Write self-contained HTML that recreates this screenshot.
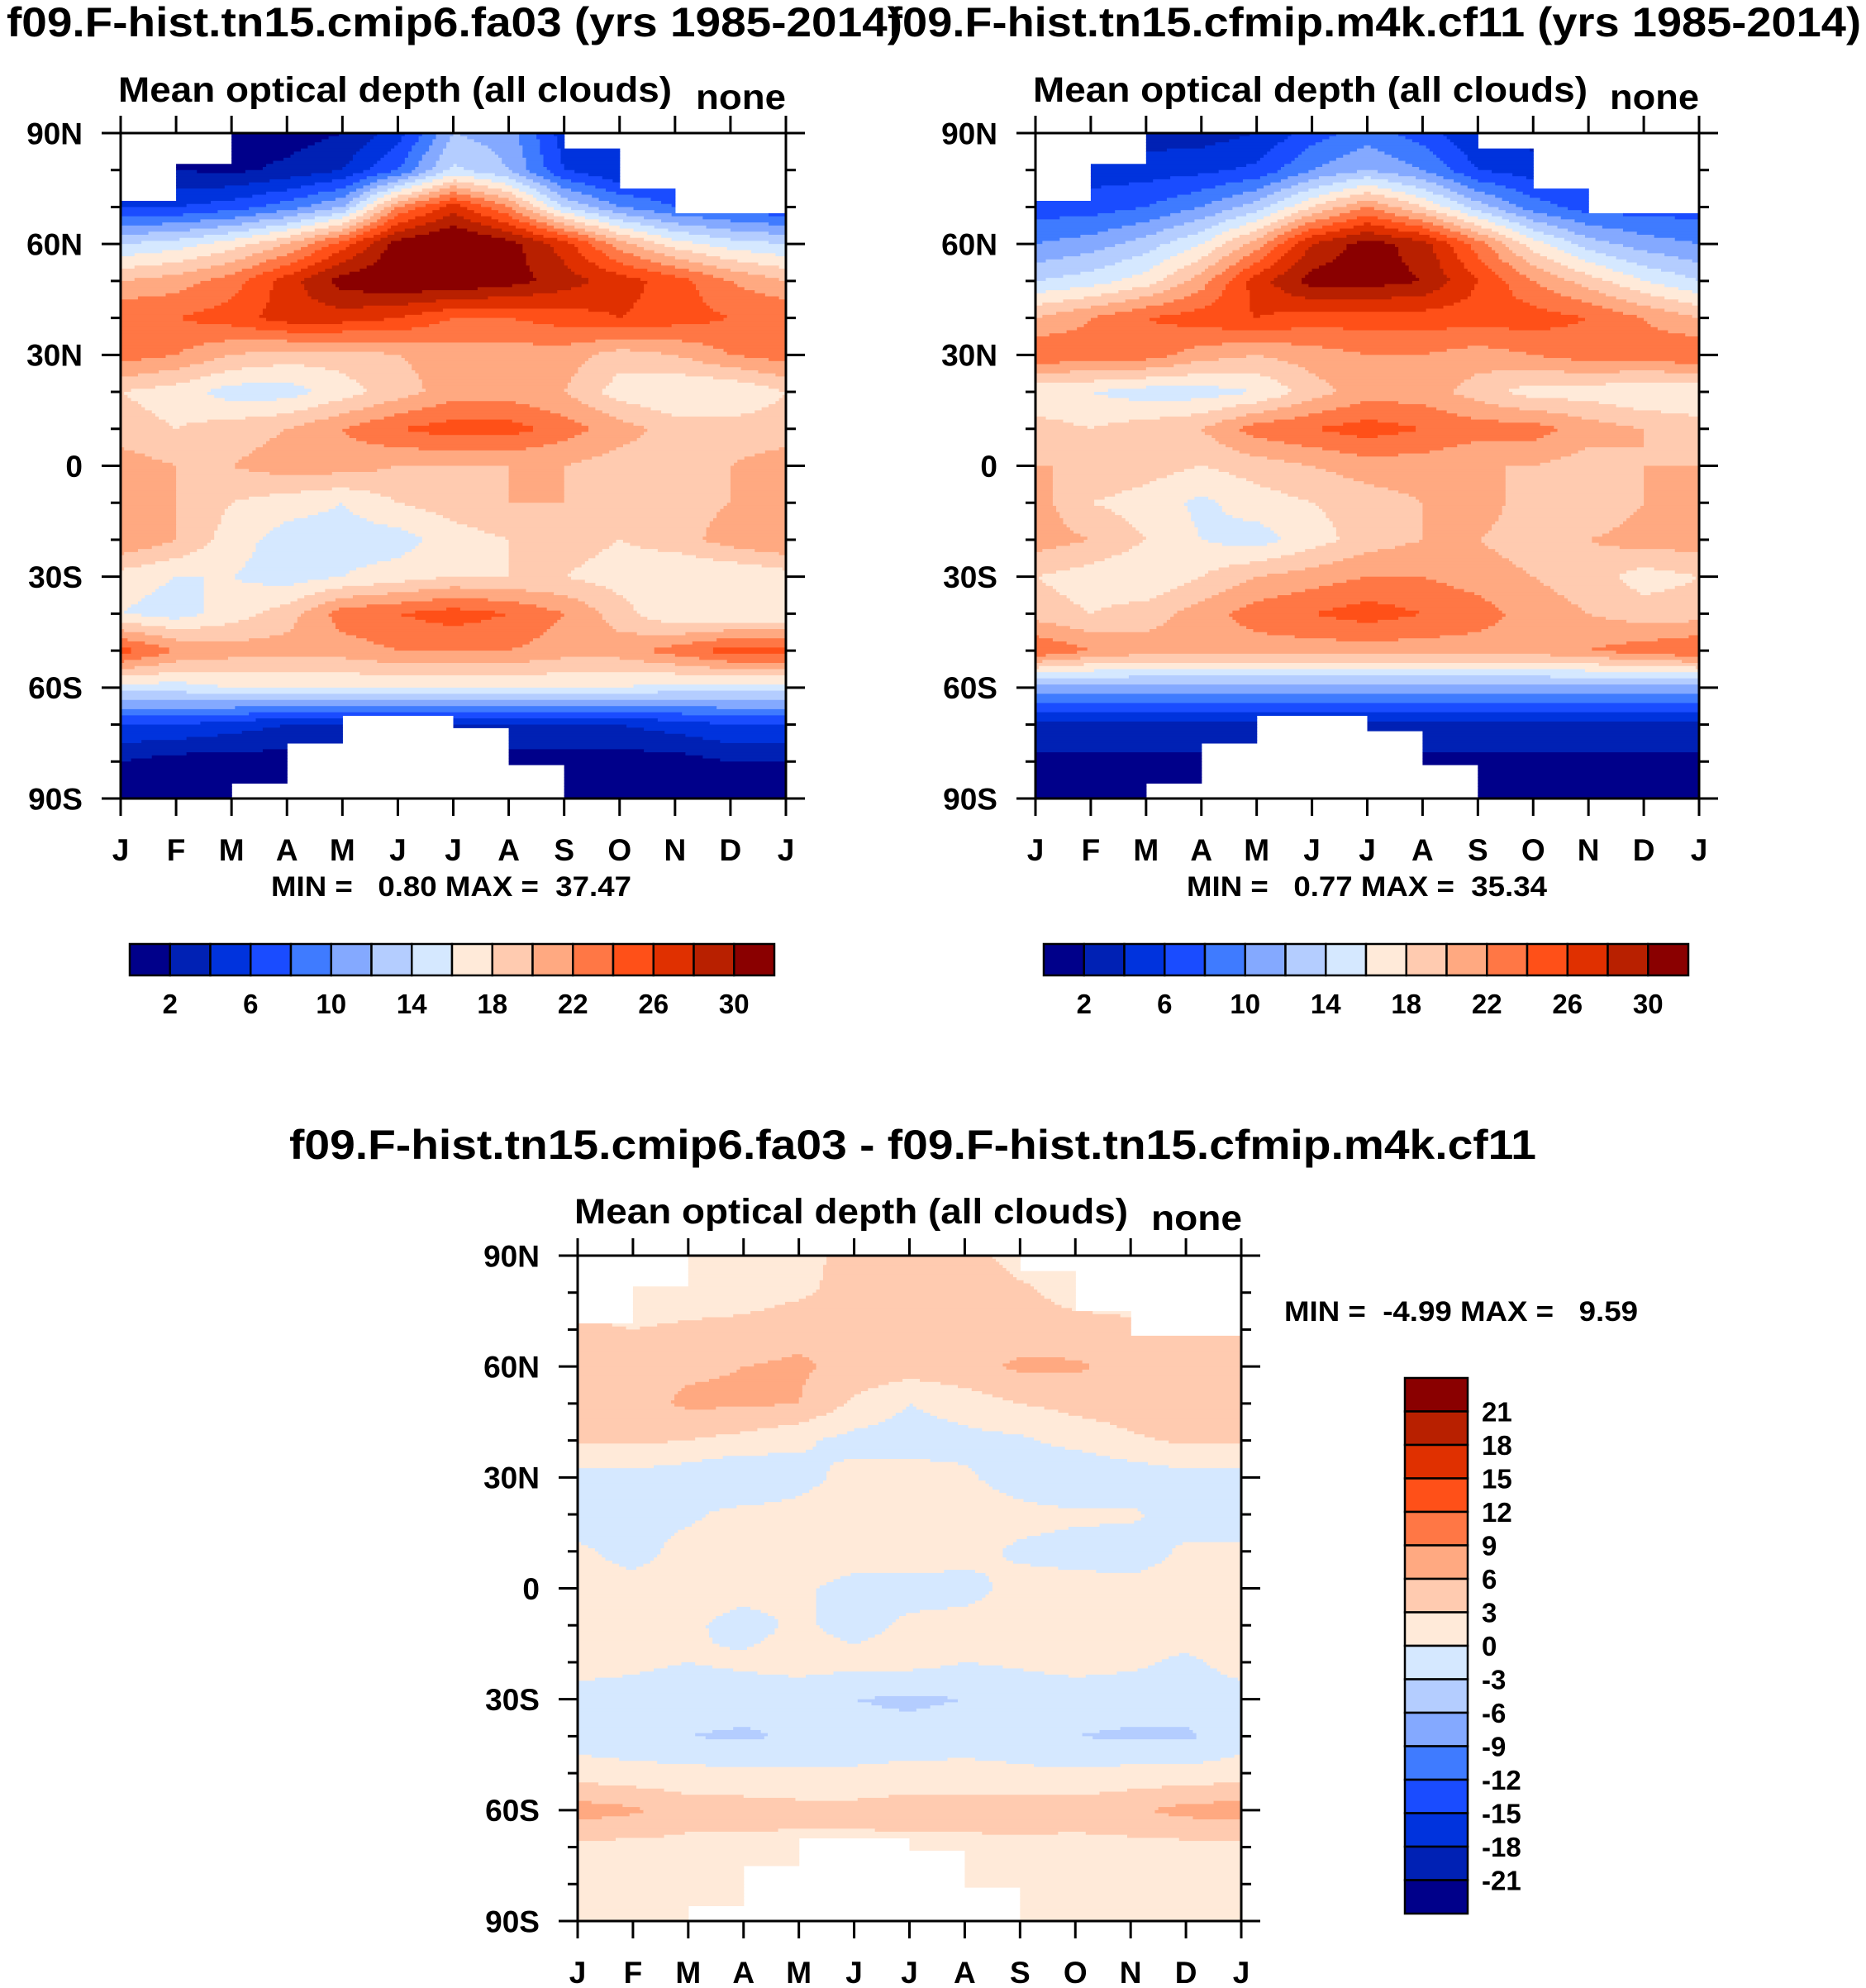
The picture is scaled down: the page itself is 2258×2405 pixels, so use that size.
<!DOCTYPE html>
<html><head><meta charset="utf-8">
<style>
html,body{margin:0;padding:0;background:#fff;}
svg{display:block;font-family:"Liberation Sans",Arial,sans-serif;font-weight:bold;}
text{white-space:pre;}
</style></head>
<body>
<svg id="chart" width="2258" height="2405" viewBox="0 0 2258 2405" xmlns="http://www.w3.org/2000/svg">
<g id="layer"></g>
</svg>
<script>
// ---- data ----
const months = ["J","F","M","A","M","J","J","A","S","O","N","D","J"];
const latLabels = ["90N","60N","30N","0","30S","60S","90S"];
const palette = ["#00008a","#0021b4","#0033dd","#1a4cff","#3f7bff","#84a9ff","#b4cdff","#d5e8ff","#ffead9","#ffcbb0","#ffa981","#ff7745","#ff5018","#e03000","#b82000","#8a0000"];
const cbLabels1 = ["2","6","10","14","18","22","26","30"];
const cbLabels3 = ["21","18","15","12","9","6","3","0","-3","-6","-9","-12","-15","-18","-21"];
// rows: 90N,80N,...,90S ; columns: J..D,J
const valsA = [
 [2,2,1,1,2,5,12,11,5,4,4,3,2],
 [3,2,1.5,2.5,4,8,14.5,12,6,4,5,4,3],
 [6,6,7,9,12,22,27,22,14,10,8,7,6],
 [14,15,17,20,25,31,33,31,27,21,17,15,14],
 [20,21,23,27,31,32,32,31,29,27,25,22,20],
 [24,24,25,27,27,26,24,24,25,26,25,24,24],
 [23,22,20,19,19,20,21,21,21,19,20,22,23],
 [18,17,15,15,17,19,21,21,20,17,16,16,18],
 [19,18,19,20,22,24,25,25,23,21,19,19,19],
 [21,20,20,21,21,20,20,20,20,19,19,20,21],
 [21,20,18,17,16,18,19,20,20,19,19,20,21],
 [22,20,17,15,15,15,17,18,19,18,19,21,22],
 [17,16,16,15,16,17,18,18,18,17,16,16,17],
 [16,15,17,19,23,24,25,24,22,19,16,16,16],
 [25,22,21,21,21,22,22,22,21,21,23,25,25],
 [15,15,16,16,16,16,16,16,16,16,15,15,15],
 [6,6,5,4,4,4,4,4,4,4,5,6,6],
 [2,1,1,1,1,1,1,1,1,1,1,2,2],
 [1,1,1,1,1,1,1,1,1,1,1,1,1]
];
const valsB = [
 [3,3,3,3,4,7,9,7,4,3,3,3,3],
 [5,5,5,5.5,6.5,10,12,10,6,5,5,5,5],
 [7,7,8,10,13,18,22,18,13,9,7,7,7],
 [10,11,13,16,21,28,31,29,23,17,13,11,10],
 [14,15,17,21,27,31,31,30,26,22,19,16,14],
 [20,22,24,25,26,25,25,25,25,25,24,22,20],
 [24,23,23,21,20,21,22,22,21,22,23,23,24],
 [16,16,15,15,16,19,21,21,19,17,17,16,16],
 [19,18,19,20,23,24,25,24,23,23,21,20,19],
 [20,20,19,18,19,20,21,21,20,20,19,20,20],
 [21,18,17,15.5,17,18,19,20,21,19,18,20,21],
 [21,20,18,16,15,17,19,20,20,19,20,21,21],
 [18,17,16,18,20,21,22,22,21,20,19,17,18],
 [19,18,19,21,23,24,25,24,23,21,20,19,19],
 [24,22,21,21,21,21,21,21,21,21,22,23,24],
 [11,11,11,11,11,11,11,11,11,11,11,11,11],
 [3.5,3.5,3.5,3.5,3.5,3.5,3.5,3.5,3.5,3.5,3.5,3.5,3.5],
 [1.5,1.5,1.5,1.5,1.5,1.5,1.5,1.5,1.5,1.5,1.5,1.5,1.5],
 [1,1,1,1,1,1,1,1,1,1,1,1,1]
];
const valsC = [
 [2,2,1.5,1.5,2,4,4.5,4,2,2,2,2,2],
 [2,1.5,1.5,1.5,2.5,4,4.5,4.5,3.5,2,2,2,2],
 [3.5,3,3.5,4,5,5.5,6,5.5,4.5,4,3.5,3.5,3.5],
 [5,5,5.5,6,6.5,5,4.5,5,6.5,6.5,5,5,5],
 [5,5,6.5,6.5,6,2.5,0,1.5,3,4,4.5,5,5],
 [3.5,3.5,3,2,0.5,-1,-1.5,-1,-0.5,1,2.5,3.5,3.5],
 [-1,-1,-2,-3.2,-1,1,1.5,0.5,-1.5,-3,-2,-1,-1],
 [-1.5,-1,-0.5,1,1,1.5,1.5,1.5,1,0.5,0.5,-1.5,-1.5],
 [0.5,-1,1,1.5,1.5,1.5,1.5,1,-0.5,-1,-1.5,0.5,0.5],
 [1,1,1,1,0.5,-1,-1,-1,1,1,1,1,1],
 [1.5,1.5,0.5,-1,0.5,-1,0.5,1,1,1,1.5,1.5,1.5],
 [1,0.5,0,0.5,1,1,1,0,0.5,1,0.5,-0.5,1],
 [-1,-1,-1.5,-1.5,-1.5,-3,-3.5,-3,-2,-1.5,-1.5,-1.5,-1],
 [-1.5,-2,-3,-3.5,-2.5,-2,-2,-1.5,-1.5,-3,-3.5,-3.5,-1.5],
 [1.5,1,1,0.5,0.5,0.5,1,1,0.5,0.5,1,1,1.5],
 [7.5,6.5,4.5,4.5,4,4,4.5,4.5,5,4.5,5.5,7,7.5],
 [2,2,2,2,2,2,2,2,2,2,2,2,2],
 [1.5,1.5,1.5,1.5,1.5,1.5,1.5,1.5,1.5,1.5,1.5,1.5,1.5],
 [1,1,1,1,1,1,1,1,1,1,1,1,1]
];
// data coverage per month interval (northern / southern latitude limit)
const northA = [72,82,90,90,90,90,90,90,86,75,68,68];
const southA = [-90,-90,-85.5,-75,-67.3,-67.3,-71,-80.5,-90,-90,-90,-90];
const northB = [72,82,90,90,90,90,90,90,86,75,68,68];
const southB = [-90,-90,-85.5,-75,-67.5,-67.5,-71.4,-80.7,-90,-90,-90,-90];
const northC = [72,82,90,90,90,90,90,90,86,75,68,68];
const southC = [-90,-90,-85.5,-75,-67.4,-67.4,-71,-80.7,-90,-90,-90,-90];

const NS = "http://www.w3.org/2000/svg";
const layer = document.getElementById('layer');
function mk(tag, attrs, parent){
  const e = document.createElementNS(NS, tag);
  for (const k in attrs) e.setAttribute(k, attrs[k]);
  (parent||layer).appendChild(e);
  return e;
}
function txt(s, x, y, size, anchor, parent, name, tl){
  const a = {x:x, y:y, 'font-size':size, 'text-anchor':anchor||'start', fill:'#000'};
  if (tl){ a.textLength = tl; a.lengthAdjust = 'spacingAndGlyphs'; }
  const t = mk('text', a, parent);
  t.setAttributeNS("http://www.w3.org/XML/1998/namespace", "xml:space", "preserve");
  t.textContent = s;
  
  
  return t;
}
function levA(v){ return Math.max(0, Math.min(15, Math.floor(v/2))); }
function levC(v){ return Math.max(0, Math.min(15, Math.floor((v+24)/3))); }
function sample(vals, m, lat){
  const i = (90 - lat)/10, j = m;
  const i0 = Math.min(17, Math.floor(i)), j0 = Math.min(11, Math.floor(j));
  const fi = i - i0, fj = j - j0;
  const a = vals[i0][j0], b = vals[i0][j0+1], c = vals[i0+1][j0], d = vals[i0+1][j0+1];
  return (a*(1-fj)+b*fj)*(1-fi) + (c*(1-fj)+d*fj)*fi;
}
function field(vals, north, south, x0, y0, w, h, lev, name){
  const g = mk('g', {});
  
  
  const cols = 192, rows = 216;
  const cw = w/cols, rh = h/rows;
  for (let r = 0; r < rows; r++){
    const lat = 90 - (r+0.5)*180/rows;
    let runStart = 0, runCol = null;
    const flush = (end) => {
      if (runCol !== null){
        const rect = mk('rect', {x:(x0+runStart*cw).toFixed(2), y:(y0+r*rh).toFixed(2), width:((end-runStart)*cw+0.6).toFixed(2), height:(rh+0.6).toFixed(2), fill:runCol}, g);
        
        
      }
    };
    for (let c = 0; c < cols; c++){
      const m = (c+0.5)*12/cols;
      const mi = Math.floor(m);
      let col = null;
      if (lat <= north[mi] && lat >= south[mi]) col = palette[lev(sample(vals, m, lat))];
      if (col !== runCol){ flush(c); runStart = c; runCol = col; }
    }
    flush(cols);
  }
}
function axes(x0, y0, w, h, labFont, name){
  const g = mk('g', {});
  
  
  const st = {stroke:'#000','stroke-width':3, fill:'none'};
  const box = mk('rect', Object.assign({x:x0,y:y0,width:w,height:h}, st), g);
  
  
  for (let k = 0; k <= 12; k++){
    const x = x0 + k*w/12;
    mk('line', Object.assign({x1:x,y1:y0,x2:x,y2:y0-21}, st), g);
    mk('line', Object.assign({x1:x,y1:y0+h,x2:x,y2:y0+h+21}, st), g);
    txt(months[k], x, y0+h+75, labFont, 'middle', g, 'x-tick-label');
  }
  for (let k = 0; k <= 18; k++){
    const y = y0 + k*h/18;
    const L = (k%3===0) ? 23 : 12;
    mk('line', Object.assign({x1:x0,y1:y,x2:x0-L,y2:y}, st), g);
    mk('line', Object.assign({x1:x0+w,y1:y,x2:x0+w+L,y2:y}, st), g);
    if (k%3===0) txt(latLabels[k/3], x0-46, y+labFont*0.36, labFont, 'end', g, 'y-tick-label');
  }
}
function hbar(x0, y0, w, h, name){
  const g = mk('g', {});
  
  
  const bw = w/16;
  for (let k = 0; k < 16; k++){
    const r = mk('rect', {x:x0+k*bw, y:y0, width:bw, height:h, fill:palette[k], stroke:'#000','stroke-width':2.5}, g);
    
    
  }
  cbLabels1.forEach((s, i) => txt(s, x0 + (2*i+1)*bw, y0+h+46, 33, 'middle', g, 'colorbar-label'));
}
function vbar(x0, y0, w, h, name){
  const g = mk('g', {});
  
  
  const bh = h/16;
  for (let k = 0; k < 16; k++){
    const r = mk('rect', {x:x0, y:y0+k*bh, width:w, height:bh, fill:palette[15-k], stroke:'#000','stroke-width':2.5}, g);
    
    
  }
  cbLabels3.forEach((s, i) => txt(s, x0+w+17, y0+(i+1)*bh+12, 33, 'start', g, 'colorbar-label'));
}

// ---- plot 1 ----
field(valsA, northA, southA, 146, 161, 805, 805, levA, 'contour-field-cmip6');
axes(146, 161, 805, 805, 37, 'axes-cmip6');
txt("f09.F-hist.tn15.cmip6.fa03 (yrs 1985-2014)", 8, 44, 50, 'start', null, 'title-cmip6', 1084);
txt("Mean optical depth (all clouds)", 143, 123, 43, 'start', null, 'subtitle-cmip6', 670);
txt("none", 842, 132, 43, 'start', null, 'units-cmip6', 109);
txt("MIN =   0.80 MAX =  37.47", 328, 1084, 34, 'start', null, 'minmax-cmip6', 436);
hbar(157, 1142, 780, 38, 'colorbar-cmip6');

// ---- plot 2 ----
field(valsB, northB, southB, 1253, 161, 803, 805, levA, 'contour-field-cfmip');
axes(1253, 161, 803, 805, 37, 'axes-cfmip');
txt("f09.F-hist.tn15.cfmip.m4k.cf11 (yrs 1985-2014)", 1074, 44, 50, 'start', null, 'title-cfmip', 1178);
txt("Mean optical depth (all clouds)", 1250, 123, 43, 'start', null, 'subtitle-cfmip', 671);
txt("none", 1948, 132, 43, 'start', null, 'units-cfmip', 108);
txt("MIN =   0.77 MAX =  35.34", 1436, 1084, 34, 'start', null, 'minmax-cfmip', 436);
hbar(1263, 1142, 780, 38, 'colorbar-cfmip');

// ---- plot 3 (difference) ----
field(valsC, northC, southC, 699, 1519, 803, 805, levC, 'contour-field-diff');
axes(699, 1519, 803, 805, 37, 'axes-diff');
txt("f09.F-hist.tn15.cmip6.fa03 - f09.F-hist.tn15.cfmip.m4k.cf11", 1104.5, 1402, 50, 'middle', null, 'title-diff', 1509);
txt("Mean optical depth (all clouds)", 695, 1480, 43, 'start', null, 'subtitle-diff', 670);
txt("none", 1393, 1488, 43, 'start', null, 'units-diff', 110);
txt("MIN =  -4.99 MAX =   9.59", 1554, 1598, 34, 'start', null, 'minmax-diff', 428);
vbar(1700, 1667, 76, 648, 'colorbar-diff');
</script>
</body></html>
